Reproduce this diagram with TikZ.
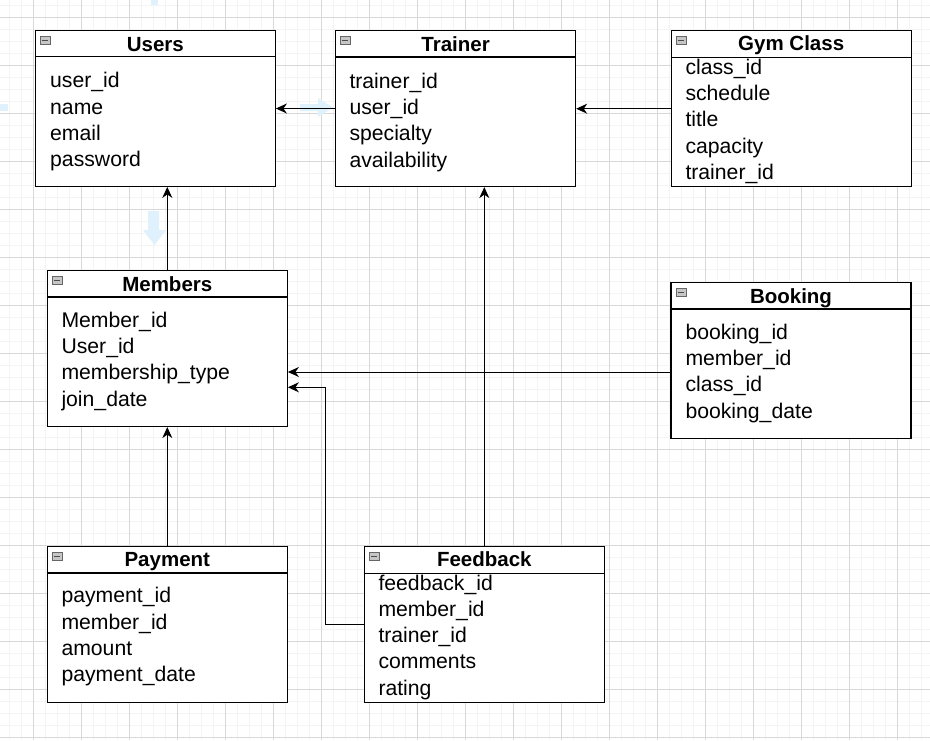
\documentclass[tikz,border=0pt]{standalone}
\usepackage{fontspec}
\setmainfont{Liberation Sans}
\usepackage{tikz}
\usetikzlibrary{arrows.meta}
\definecolor{minorgrid}{RGB}{244,244,244}
\definecolor{majorgrid}{RGB}{216,216,216}
\definecolor{hintblue}{RGB}{222,241,252}
\newcommand\fieldfont{\fontsize{21.2}{26.3}\selectfont}
\newcommand\headfont{\fontsize{20.5}{24}\selectfont\bfseries}

\begin{document}
\begin{tikzpicture}[x=1pt, y=-1pt,
  entity/.style={draw, line width=1.2pt, fill=white, minimum width=240pt, minimum height=156pt, inner sep=0pt},
  entitytitle/.style={anchor=base, inner sep=0pt, font=\headfont},
  fields/.style={anchor=base west, inner sep=0pt, font=\fieldfont},
  minbox/.style={draw=gray!80!black, fill=gray!45, minimum width=10pt, minimum height=8pt, inner sep=0pt, line width=0.6pt,
    path picture={\draw[line width=1pt, black!70] ([xshift=2pt]path picture bounding box.west) -- ([xshift=-2pt]path picture bounding box.east);}},
  fk/.style={draw, line width=1pt, -{Stealth[length=11pt, width=10pt, inset=3.5pt]}},
  hint/.style={fill=hintblue, draw=none}]
\useasboundingbox[fill=white] (0,0) rectangle (930,740);
\draw[minorgrid, line width=1pt, shift={(9.3,5.3)}, step=12pt] (-9.3,-5.3) grid (920.7,734.7);
\draw[majorgrid, line width=1pt, shift={(33.3,17.3)}, step=48pt] (-33.3,-17.3) grid (896.7,722.7);
%\draw[red] (0,0) rectangle (930,740);
\fill[hint] (0,104) rectangle (8,111);
\fill[hint] (151,0) rectangle (158,5);
\fill[hint] (300,104) -- (318,104) -- (318,98) -- (333,107.5) -- (318,117) -- (318,111) -- (300,111) -- cycle;
\fill[hint] (148,211) -- (159,211) -- (159,230) -- (166,230) -- (154.5,245) -- (143,230) -- (148,230) -- cycle;

\node[entity] (users) at (155.3,108.3) {};
\draw[line width=1.2pt] ([yshift=-27pt]users.north west) -- ([yshift=-27pt]users.north east);
\node[minbox] (usersmin) at ([xshift=10.4pt,yshift=-10.5pt]users.north west) {};
\node[entitytitle] (userstitle) at (155.3,51) {Users};
\node[fields] (usersfields) at (50,87.7) {\begin{tabular}[t]{@{}l@{}}user\_id\\name\\email\\password\end{tabular}};

\node[entity] (trainer) at (455.6,108.5) {};
\draw[line width=1.2pt] ([yshift=-27pt]trainer.north west) -- ([yshift=-27pt]trainer.north east);
\node[minbox] (trainermin) at ([xshift=10.4pt,yshift=-10.5pt]trainer.north west) {};
\node[entitytitle] (trainertitle) at (455.6,51) {Trainer};
\node[fields] (trainerfields) at (349.3,88.3) {\begin{tabular}[t]{@{}l@{}}trainer\_id\\user\_id\\specialty\\availability\end{tabular}};

\node[entity] (gym) at (791.2,108.7) {};
\draw[line width=1.2pt] ([yshift=-27pt]gym.north west) -- ([yshift=-27pt]gym.north east);
\node[minbox] (gymmin) at ([xshift=10.4pt,yshift=-10.5pt]gym.north west) {};
\node[entitytitle] (gymtitle) at (791.2,50.7) {Gym Class};
\node[fields] (gymfields) at (685.3,74.3) {\begin{tabular}[t]{@{}l@{}}class\_id\\schedule\\title\\capacity\\trainer\_id\end{tabular}};

\node[entity] (members) at (167.3,348.5) {};
\draw[line width=1.2pt] ([yshift=-27pt]members.north west) -- ([yshift=-27pt]members.north east);
\node[minbox] (membersmin) at ([xshift=10.4pt,yshift=-10.5pt]members.north west) {};
\node[entitytitle] (memberstitle) at (167.3,291) {Members};
\node[fields] (membersfields) at (61.3,327.3) {\begin{tabular}[t]{@{}l@{}}Member\_id\\User\_id\\membership\_type\\join\_date\end{tabular}};

\node[entity] (booking) at (791,360.5) {};
\draw[line width=1.2pt] ([yshift=-27pt]booking.north west) -- ([yshift=-27pt]booking.north east);
\node[minbox] (bookingmin) at ([xshift=10.4pt,yshift=-10.5pt]booking.north west) {};
\node[entitytitle] (bookingtitle) at (791,303) {Booking};
\node[fields] (bookingfields) at (685.3,339.3) {\begin{tabular}[t]{@{}l@{}}booking\_id\\member\_id\\class\_id\\booking\_date\end{tabular}};

\node[entity] (payment) at (167.3,624.5) {};
\draw[line width=1.2pt] ([yshift=-27pt]payment.north west) -- ([yshift=-27pt]payment.north east);
\node[minbox] (paymentmin) at ([xshift=10.4pt,yshift=-10.5pt]payment.north west) {};
\node[entitytitle] (paymenttitle) at (167.3,566.7) {Payment};
\node[fields] (paymentfields) at (61.3,602.7) {\begin{tabular}[t]{@{}l@{}}payment\_id\\member\_id\\amount\\payment\_date\end{tabular}};

\node[entity] (feedback) at (484.3,624.7) {};
\draw[line width=1.2pt] ([yshift=-27pt]feedback.north west) -- ([yshift=-27pt]feedback.north east);
\node[minbox] (feedbackmin) at ([xshift=10.4pt,yshift=-10.5pt]feedback.north west) {};
\node[entitytitle] (feedbacktitle) at (484.3,566.7) {Feedback};
\node[fields] (feedbackfields) at (378.3,590) {\begin{tabular}[t]{@{}l@{}}feedback\_id\\member\_id\\trainer\_id\\comments\\rating\end{tabular}};

\coordinate (bookingout) at ([yshift=-11.5pt]booking.west);
\coordinate (feedbackbend) at (325.7,387.3);
\draw[fk] (trainer.west) -- (trainer.west -| users.east);
\draw[fk] (gym.west) -- (gym.west -| trainer.east);
\draw[fk] (members.north) -- (members.north |- users.south);
\draw[fk] (payment.north) -- (payment.north |- members.south);
\draw[fk] (feedback.north) -- (feedback.north |- trainer.south);
\draw[fk] (bookingout) -- (bookingout -| members.east);
\draw[fk] (feedback.west) -| (feedbackbend) -- (feedbackbend -| members.east);
\end{tikzpicture}
\end{document}
